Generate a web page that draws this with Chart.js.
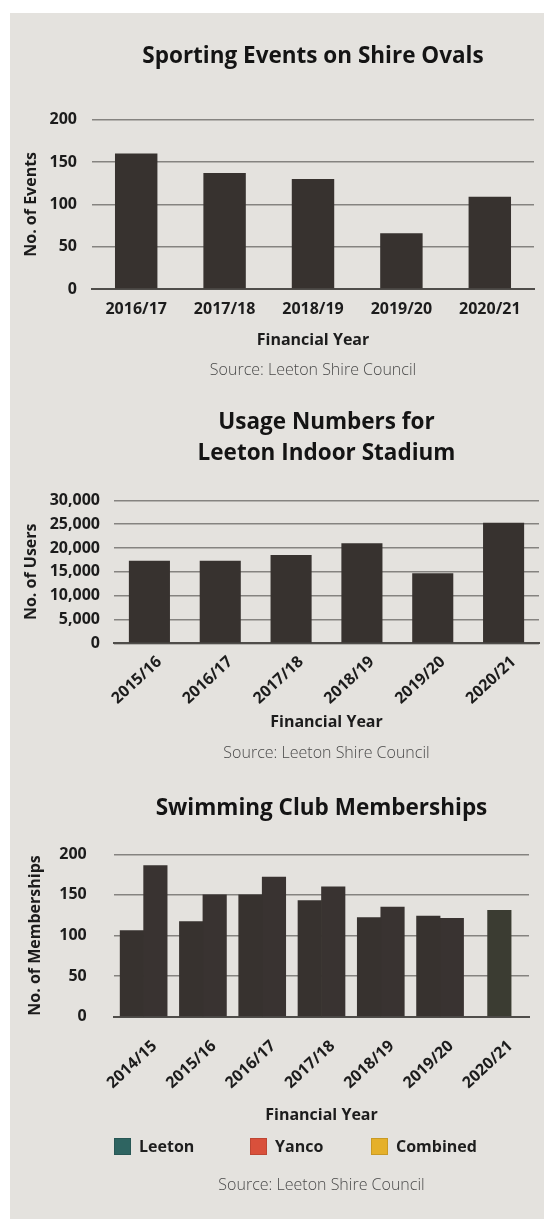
<!DOCTYPE html>
<html>
<head>
<meta charset="utf-8">
<script src="https://cdn.jsdelivr.net/npm/chart.js@4.4.1/dist/chart.umd.min.js"></script>
<style>
  html, body { margin: 0; padding: 0; background: #fff; overflow: hidden; }
  #panel {
    position: absolute; left: 10px; top: 13px; width: 534px; height: 1206px;
    background: #e4e2de; overflow: hidden;
  }
  #panel canvas { position: absolute; left: 0; }
  #events { top: 0; }
  #stadium { top: 377px; }
  #swim { top: 757px; }
  #swimLegend {
    position: absolute; left: 104px; top: 1124px;
    display: grid; grid-template-columns: 136px 121px auto; align-items: center;
    font-family: 'Open Sans', sans-serif; font-weight: 700; font-size: 16px; color: #1e1e1e;
  }
  #swimLegend .item { display: flex; align-items: center; height: 18px; }
  #swimLegend .swatch {
    width: 17px; height: 17px; margin-right: 8px; box-sizing: border-box;
    border: 1px solid rgba(0, 0, 0, 0.12);
  }
</style>
</head>
<body>
<div id="panel">
  <canvas id="events" width="534" height="377"></canvas>
  <canvas id="stadium" width="534" height="380"></canvas>
  <canvas id="swim" width="534" height="449"></canvas>
  <div id="swimLegend"></div>
</div>
<script>
// Sporting events on shire ovals
const eventYears = ['2016/17', '2017/18', '2018/19', '2019/20', '2020/21'];
const eventCounts = [160, 137, 130, 66, 109];

// Leeton Indoor Stadium users
const stadiumYears = ['2015/16', '2016/17', '2017/18', '2018/19', '2019/20', '2020/21'];
const stadiumUsers = [17300, 17300, 18500, 21000, 14700, 25300];

// Swimming club memberships
const swimYears = ['2014/15', '2015/16', '2016/17', '2017/18', '2018/19', '2019/20', '2020/21'];
const swimClubs = ['Leeton', 'Yanco', 'Combined'];
const leetonMembers = [106, 117, 150, 143, 122, 124, null];
const yancoMembers = [186, 150, 172, 160, 135, 121, null];
const combinedMembers = [null, null, null, null, null, null, 131];
const swimSwatches = ['#2e6461', '#d9503b', '#e5b02a'];

const SOURCE = 'Source: Leeton Shire Council';
const BAR = '#37322f';
const GRID = '#858380';
const BASE = '#4f4d4a';
const INK = '#1c1c1c';

Chart.defaults.font.family = "'Open Sans', 'DejaVu Sans', sans-serif";
Chart.defaults.color = INK;
Chart.defaults.animation = false;
Chart.defaults.responsive = false;
Chart.defaults.plugins.legend.display = false;
Chart.defaults.plugins.tooltip.enabled = false;

const boldFont = { size: 16, weight: 'bold' };
const titleFont = { size: 22.5, weight: 'bold' };
const sourceFont = { size: 16, weight: '300' };

function title(text, top, bottom, lineHeight) {
  return {
    display: true, text, fullSize: false, color: '#141414',
    font: { ...titleFont, lineHeight: lineHeight || 1.2 },
    padding: { top, bottom }
  };
}

function source(top, bottom) {
  return {
    display: true, position: 'bottom', text: SOURCE, fullSize: false,
    color: '#4a4a4a', font: sourceFont, padding: { top, bottom }
  };
}

// category axis along the bottom, with the solid baseline
function xAxis(height, tickPad, titlePad, rotation, labelOffset) {
  return {
    grid: { display: false, drawTicks: false },
    border: { display: true, color: BASE, width: 2 },
    ticks: {
      font: boldFont, color: INK, padding: tickPad,
      minRotation: rotation, maxRotation: rotation, labelOffset,
      autoSkip: false
    },
    title: { display: true, text: 'Financial Year', font: boldFont, color: INK, padding: { top: 0, bottom: titlePad } },
    afterFit(scale) { scale.height = height; }
  };
}

function yAxis(text, max, step, width, titlePad, tickPad, fmt) {
  return {
    min: 0, max,
    grid: { color: GRID, lineWidth: 1.5, drawTicks: false },
    border: { display: false },
    ticks: { stepSize: step, font: boldFont, color: INK, padding: tickPad, callback: fmt },
    title: { display: true, text, font: boldFont, color: INK, padding: { top: titlePad, bottom: 0 } },
    afterFit(scale) { scale.width = width; }
  };
}

new Chart(document.getElementById('events'), {
  type: 'bar',
  data: {
    labels: eventYears,
    datasets: [{ label: 'Events', data: eventCounts, backgroundColor: BAR, categoryPercentage: 1, barPercentage: 0.48 }]
  },
  options: {
    layout: { padding: { left: 0, right: 10, top: 0, bottom: 0 } },
    plugins: {
      title: title('Sporting Events on Shire Ovals', 30.5, 49.2),
      subtitle: source(10, 9.7)
    },
    scales: {
      x: xAxis(62.1, 10.4, 1.5, 0, 0),
      y: yAxis('No. of Events', 200, 50, 82, 12.1, 15)
    }
  }
});

new Chart(document.getElementById('stadium'), {
  type: 'bar',
  data: {
    labels: stadiumYears,
    datasets: [{ label: 'Users', data: stadiumUsers, backgroundColor: BAR, categoryPercentage: 1, barPercentage: 0.58 }]
  },
  options: {
    layout: { padding: { left: 0, right: 5, top: 0, bottom: 0 } },
    plugins: {
      title: title(['Usage Numbers for', 'Leeton Indoor Stadium'], 17, 31.3, 31 / 22.5),
      subtitle: source(8, 7.1)
    },
    scales: {
      x: xAxis(92.4, 9, 3.4, 43, 10),
      y: yAxis('No. of Users', 30000, 5000, 104, 12.1, 14, v => v.toLocaleString('en-US'))
    }
  }
});

const swimChart = new Chart(document.getElementById('swim'), {
  type: 'bar',
  data: {
    labels: swimYears,
    datasets: [
      { label: swimClubs[0], data: leetonMembers, backgroundColor: BAR },
      { label: swimClubs[1], data: yancoMembers, backgroundColor: '#393331' },
      { label: swimClubs[2], data: combinedMembers, backgroundColor: '#3b3c32' }
    ]
  },
  options: {
    datasets: { bar: { skipNull: true, barThickness: 23.5 } },
    layout: { padding: { left: 0, right: 15, top: 0, bottom: 0 } },
    plugins: {
      title: title('Swimming Club Memberships', 24.8, 32.5),
      subtitle: source(45.4, 24.4)
    },
    scales: {
      x: xAxis(113.3, 20, 4.6, 43, 11),
      y: yAxis('No. of Memberships', 200, 50, 104, 15.4, 27.3)
    }
  }
});

// legend swatches for the three club series
const legendBox = document.getElementById('swimLegend');
swimChart.data.datasets.forEach((ds, i) => {
  const item = document.createElement('div');
  item.className = 'item';
  const swatch = document.createElement('span');
  swatch.className = 'swatch';
  swatch.style.background = swimSwatches[i];
  const label = document.createElement('span');
  label.textContent = ds.label;
  item.append(swatch, label);
  legendBox.append(item);
});
</script>
</body>
</html>
